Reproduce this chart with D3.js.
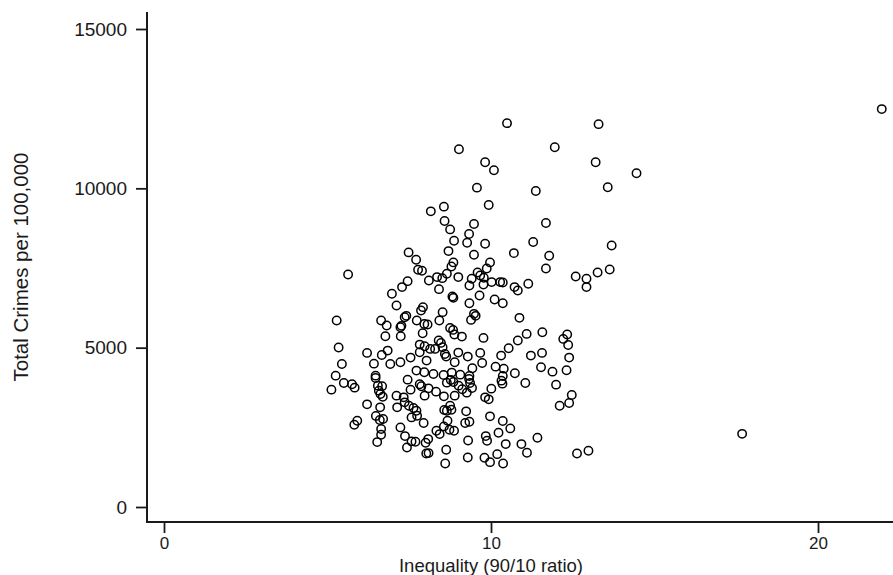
<!DOCTYPE html>
<html>
<head>
<meta charset="utf-8">
<script src="https://cdn.jsdelivr.net/npm/d3@7"></script>
<style>
  body { margin: 0; background: #fff; }
  svg text { font-family: "Liberation Sans", Arial, sans-serif; fill: #1a1a1a; }
</style>
</head>
<body>
<div id="chart"></div>
<script>
// Inequality (90/10 ratio) for each observation
const inequality = [
  9.57, 11.37, 8.56, 9.93, 8.16, 8.58, 9.48, 11.68, 8.75, 9.33,
  8.87, 9.27, 9.82, 11.29, 8.70, 7.48, 9.48, 10.70, 11.78, 7.71,
  8.85, 9.97, 8.79, 9.87, 11.68, 7.77, 7.89, 9.59, 8.65, 5.63,
  8.35, 8.51, 9.00, 9.67, 9.78, 9.41, 7.45, 8.10, 10.02, 10.28,
  10.36, 11.14, 12.59, 12.92, 12.92, 7.28, 9.34, 9.77, 10.72, 10.82,
  8.41, 6.97, 8.82, 8.85, 9.65, 10.11, 10.36, 9.34, 7.11, 7.92,
  7.86, 8.52, 9.48, 9.53, 7.41, 7.36, 8.42, 9.39, 10.87, 5.28,
  6.64, 7.73, 7.96, 8.06, 6.81, 7.26, 7.23, 8.75, 8.84, 8.88,
  9.11, 7.91, 6.77, 7.24, 9.77, 11.09, 11.57, 10.82, 12.21, 12.33,
  12.36, 8.40, 8.47, 8.52, 7.82, 7.97, 8.14, 7.82, 8.29, 5.34,
  6.21, 6.84, 6.66, 8.59, 8.63, 9.00, 9.29, 9.67, 10.31, 10.54,
  11.22, 11.56, 12.39, 7.54, 7.23, 6.92, 6.42, 5.44, 8.03, 8.89,
  9.73, 9.43, 10.14, 10.39, 11.53, 11.88, 12.31, 7.72, 7.96, 8.24,
  8.55, 8.80, 9.06, 9.34, 6.47, 5.25, 10.73, 10.36, 6.47, 5.50,
  5.75, 5.83, 5.12, 6.54, 6.67, 7.45, 7.82, 7.87, 8.65, 8.77,
  8.85, 9.01, 9.33, 9.36, 9.42, 10.32, 10.35, 11.05, 11.99, 7.54,
  8.09, 6.57, 6.62, 7.97, 8.32, 8.56, 8.89, 9.26, 9.12, 10.01,
  7.11, 7.33, 6.21, 6.69, 7.36, 7.49, 7.63, 7.13, 6.61, 7.72,
  8.57, 8.65, 8.79, 8.75, 9.24, 9.82, 9.93, 12.47, 12.39, 12.10,
  7.74, 7.57, 6.48, 6.60, 6.70, 7.94, 8.67, 9.21, 9.34, 9.97,
  10.36, 5.82, 5.91, 7.23, 6.64, 8.56, 8.73, 8.33, 8.43, 8.87,
  6.64, 7.37, 10.23, 10.59, 9.84, 11.42, 9.88, 9.30, 8.08, 7.57,
  7.69, 8.00, 6.52, 10.45, 10.93, 7.43, 8.63, 11.10, 8.02, 8.09,
  10.19, 9.29, 9.80, 9.97, 10.37, 8.60, 12.63, 12.98,
  9.02, 9.82, 10.09, 10.49, 11.95, 13.29, 13.20, 14.45, 13.57, 13.69,
  13.26, 13.63, 17.68, 21.95
];

// Total crimes per 100,000, same order
const totalCrimes = [
  10022, 9918, 9425, 9477, 9278, 8974, 8880, 8912, 8712, 8566,
  8356, 8293, 8262, 8314, 8031, 7989, 7916, 7968, 7885, 7759,
  7675, 7675, 7549, 7486, 7486, 7444, 7413, 7361, 7319, 7298,
  7214, 7182, 7214, 7266, 7193, 7162, 7088, 7109, 7057, 7057,
  7046, 7004, 7235, 7162, 6900, 6900, 6952, 6983, 6900, 6795,
  6836, 6690, 6606, 6564, 6637, 6512, 6396, 6396, 6323, 6271,
  6166, 6114, 6061, 5998, 5998, 5956, 5851, 5872, 5935, 5851,
  5851, 5851, 5746, 5725, 5694, 5684, 5642, 5621, 5558, 5411,
  5348, 5453, 5359, 5359, 5307, 5432, 5485, 5223, 5275, 5411,
  5086, 5223, 5149, 5013, 5097, 5044, 4961, 4856, 4961, 5003,
  4835, 4908, 4772, 4803, 4720, 4845, 4720, 4835, 4751, 4981,
  4751, 4835, 4688, 4688, 4541, 4489, 4499, 4489, 4594, 4541,
  4520, 4353, 4405, 4342, 4384, 4248, 4290, 4280, 4227, 4175,
  4143, 4217, 4154, 4112, 4122, 4122, 4196, 4112, 4049, 3892,
  3850, 3745, 3682, 3808, 3787, 3997, 3850, 3787, 3902, 3986,
  3923, 3808, 4017, 3892, 3735, 3965, 3871, 3892, 3839, 3682,
  3724, 3651, 3546, 3494, 3619, 3473, 3494, 3588, 3693, 3714,
  3494, 3441, 3221, 3462, 3284, 3179, 3106, 3127, 3127, 3022,
  3043, 3022, 3053, 3179, 3001, 3441, 3378, 3514, 3263, 3179,
  2865, 2812, 2854, 2729, 2760, 2634, 2708, 2634, 2676, 2844,
  2697, 2582, 2708, 2498, 2446, 2529, 2425, 2393, 2288, 2393,
  2267, 2225, 2330, 2466, 2225, 2173, 2078, 2089, 2131, 2058,
  2047, 2016, 2037, 1974, 1974, 1869, 1796, 1701, 1680, 1691,
  1659, 1555, 1544, 1408, 1366, 1366, 1680, 1764,
  11228, 10819, 10567, 12045, 11290, 12014, 10819, 10473, 10033, 8208,
  7360, 7454, 2296, 12486
];

const xTicks = [0, 10, 20];
const yTicks = [0, 5000, 10000, 15000];

const width = 893;
const height = 575;

const svg = d3.select('#chart')
  .append('svg')
  .attr('width', width)
  .attr('height', height);

// plot region edges (where the axis lines sit)
const plotLeft = 147, plotRight = 893, plotTop = 12, plotBottom = 522;

const x = d3.scaleLinear().domain([0, 20]).range([164, 818]);
const y = d3.scaleLinear().domain([0, 15000]).range([507, 29]);

const points = inequality.map((v, i) => ({ x: v, y: totalCrimes[i] }));

// y axis
const yAxis = svg.append('g')
  .attr('transform', `translate(${plotLeft},0)`)
  .call(d3.axisLeft(y).tickValues(yTicks).tickFormat(d3.format('d'))
    .tickSize(11).tickPadding(9).tickSizeOuter(0));
yAxis.select('.domain').remove();
yAxis.selectAll('.tick line').attr('stroke', '#1a1a1a').attr('stroke-width', 1.8);
yAxis.selectAll('.tick text').attr('font-size', 19).attr('fill', '#1a1a1a');

// x axis
const xAxis = svg.append('g')
  .attr('transform', `translate(0,${plotBottom})`)
  .call(d3.axisBottom(x).tickValues(xTicks).tickFormat(d3.format('d'))
    .tickSize(11).tickPadding(4).tickSizeOuter(0));
xAxis.select('.domain').remove();
xAxis.selectAll('.tick line').attr('stroke', '#1a1a1a').attr('stroke-width', 1.8);
xAxis.selectAll('.tick text').attr('font-size', 17).attr('fill', '#1a1a1a');

// axis lines
svg.append('line')
  .attr('x1', plotLeft).attr('x2', plotLeft)
  .attr('y1', plotTop).attr('y2', plotBottom)
  .attr('stroke', '#1a1a1a').attr('stroke-width', 2);
svg.append('line')
  .attr('x1', plotLeft - 1).attr('x2', plotRight)
  .attr('y1', plotBottom).attr('y2', plotBottom)
  .attr('stroke', '#1a1a1a').attr('stroke-width', 2);

// titles
svg.append('text')
  .attr('x', x(10))
  .attr('y', 572)
  .attr('text-anchor', 'middle')
  .attr('font-size', 18.5)
  .text('Inequality (90/10 ratio)');

svg.append('text')
  .attr('transform', `translate(28,${(plotTop + plotBottom) / 2}) rotate(-90)`)
  .attr('text-anchor', 'middle')
  .attr('font-size', 20.5)
  .text('Total Crimes per 100,000');

// markers
svg.append('g')
  .selectAll('circle')
  .data(points)
  .enter()
  .append('circle')
  .attr('cx', d => x(d.x))
  .attr('cy', d => y(d.y))
  .attr('r', 4.2)
  .attr('fill', 'none')
  .attr('stroke', '#000')
  .attr('stroke-width', 1.5);
</script>
</body>
</html>
